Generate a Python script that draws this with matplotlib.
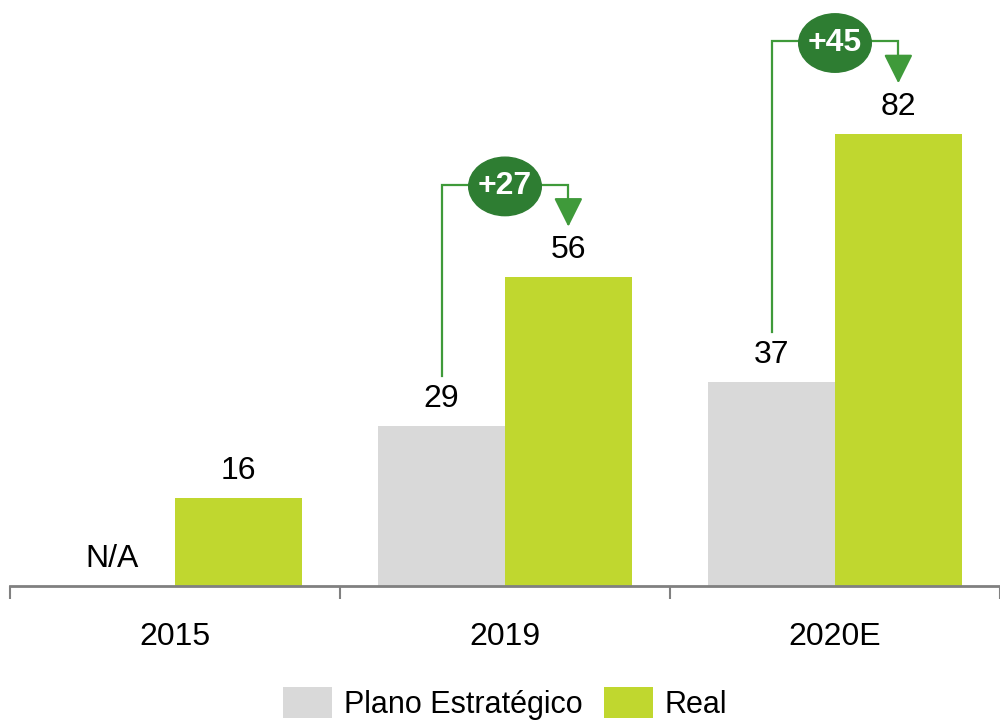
import numpy as np
import matplotlib.pyplot as plt
from matplotlib.patches import Ellipse

plt.rcParams['font.family'] = ['Liberation Sans', 'DejaVu Sans']

years = ["2015", "2019", "2020E"]
plano = [None, 29, 37]
real = [16, 56, 82]
deltas = ["", "+27", "+45"]
legend_labels = ["Plano Estratégico", "Real"]

gray = "#d9d9d9"
lime = "#c0d72f"
dark_green = "#2e7d32"
line_green = "#3f9a3a"

fig = plt.figure(figsize=(10, 7.22), dpi=100)
ax = fig.add_axes([0.01, 0.188, 0.99, 0.812])

x = np.arange(len(years))
w = 0.384
plano_vals = [v if v is not None else 0 for v in plano]
b1 = ax.bar(x - w / 2, plano_vals, w, color=gray, label=legend_labels[0])
b2 = ax.bar(x + w / 2, real, w, color=lime, label=legend_labels[1])

# value labels
for i in range(len(years)):
    txt = "N/A" if plano[i] is None else str(plano[i])
    ax.annotate(txt, (x[i] - w / 2, plano_vals[i]), xytext=(0, 9),
                textcoords="offset points", ha="center", va="bottom", fontsize=23)
    ax.annotate(str(real[i]), (x[i] + w / 2, real[i]), xytext=(0, 9),
                textcoords="offset points", ha="center", va="bottom", fontsize=23)

# difference brackets
for i in range(len(years)):
    if plano[i] is None:
        continue
    xl = x[i] - w / 2
    xr = x[i] + w / 2
    top = real[i] + 16.8
    ax.plot([xl, xl, xr, xr], [plano[i] + 9.1, top, top, real[i] + 13],
            color=line_green, lw=1.6, solid_joinstyle="miter")
    ax.annotate("", xy=(xr, real[i] + 9.2), xytext=(xr, real[i] + 14),
                arrowprops=dict(arrowstyle="-|>,head_length=0.9,head_width=0.45",
                                mutation_scale=20, color=line_green, lw=1.6,
                                shrinkA=0, shrinkB=0),
                annotation_clip=False)
    ax.add_patch(Ellipse((x[i], top - 0.3), 0.22, 10.6, color=dark_green, zorder=5))
    ax.text(x[i], top - 0.3, deltas[i], color="white", fontsize=23, fontweight="bold",
            ha="center", va="center", zorder=6)

ax.set_xlim(-0.5, 2.47)
ax.set_ylim(0, 106.3)
ax.set_yticks([])
for s in ["top", "right", "left"]:
    ax.spines[s].set_visible(False)
ax.spines["bottom"].set_color("#808080")
ax.spines["bottom"].set_linewidth(2)
ax.set_xticks(x)
ax.set_xticklabels(years, fontsize=23)
ax.tick_params(axis="x", which="major", length=0, pad=26)
ax.set_xticks([-0.5, 0.5, 1.5, 2.5], minor=True)
ax.tick_params(axis="x", which="minor", length=9, width=1.5, color="#808080")

fig.legend(handles=[b1, b2], labels=legend_labels, loc="center",
           bbox_to_anchor=(0.505, 0.026), ncol=2, frameon=False, fontsize=22,
           handlelength=1.6, handleheight=1.2, handletextpad=0.4,
           columnspacing=0.7)

fig.savefig("out.png", dpi=100)
